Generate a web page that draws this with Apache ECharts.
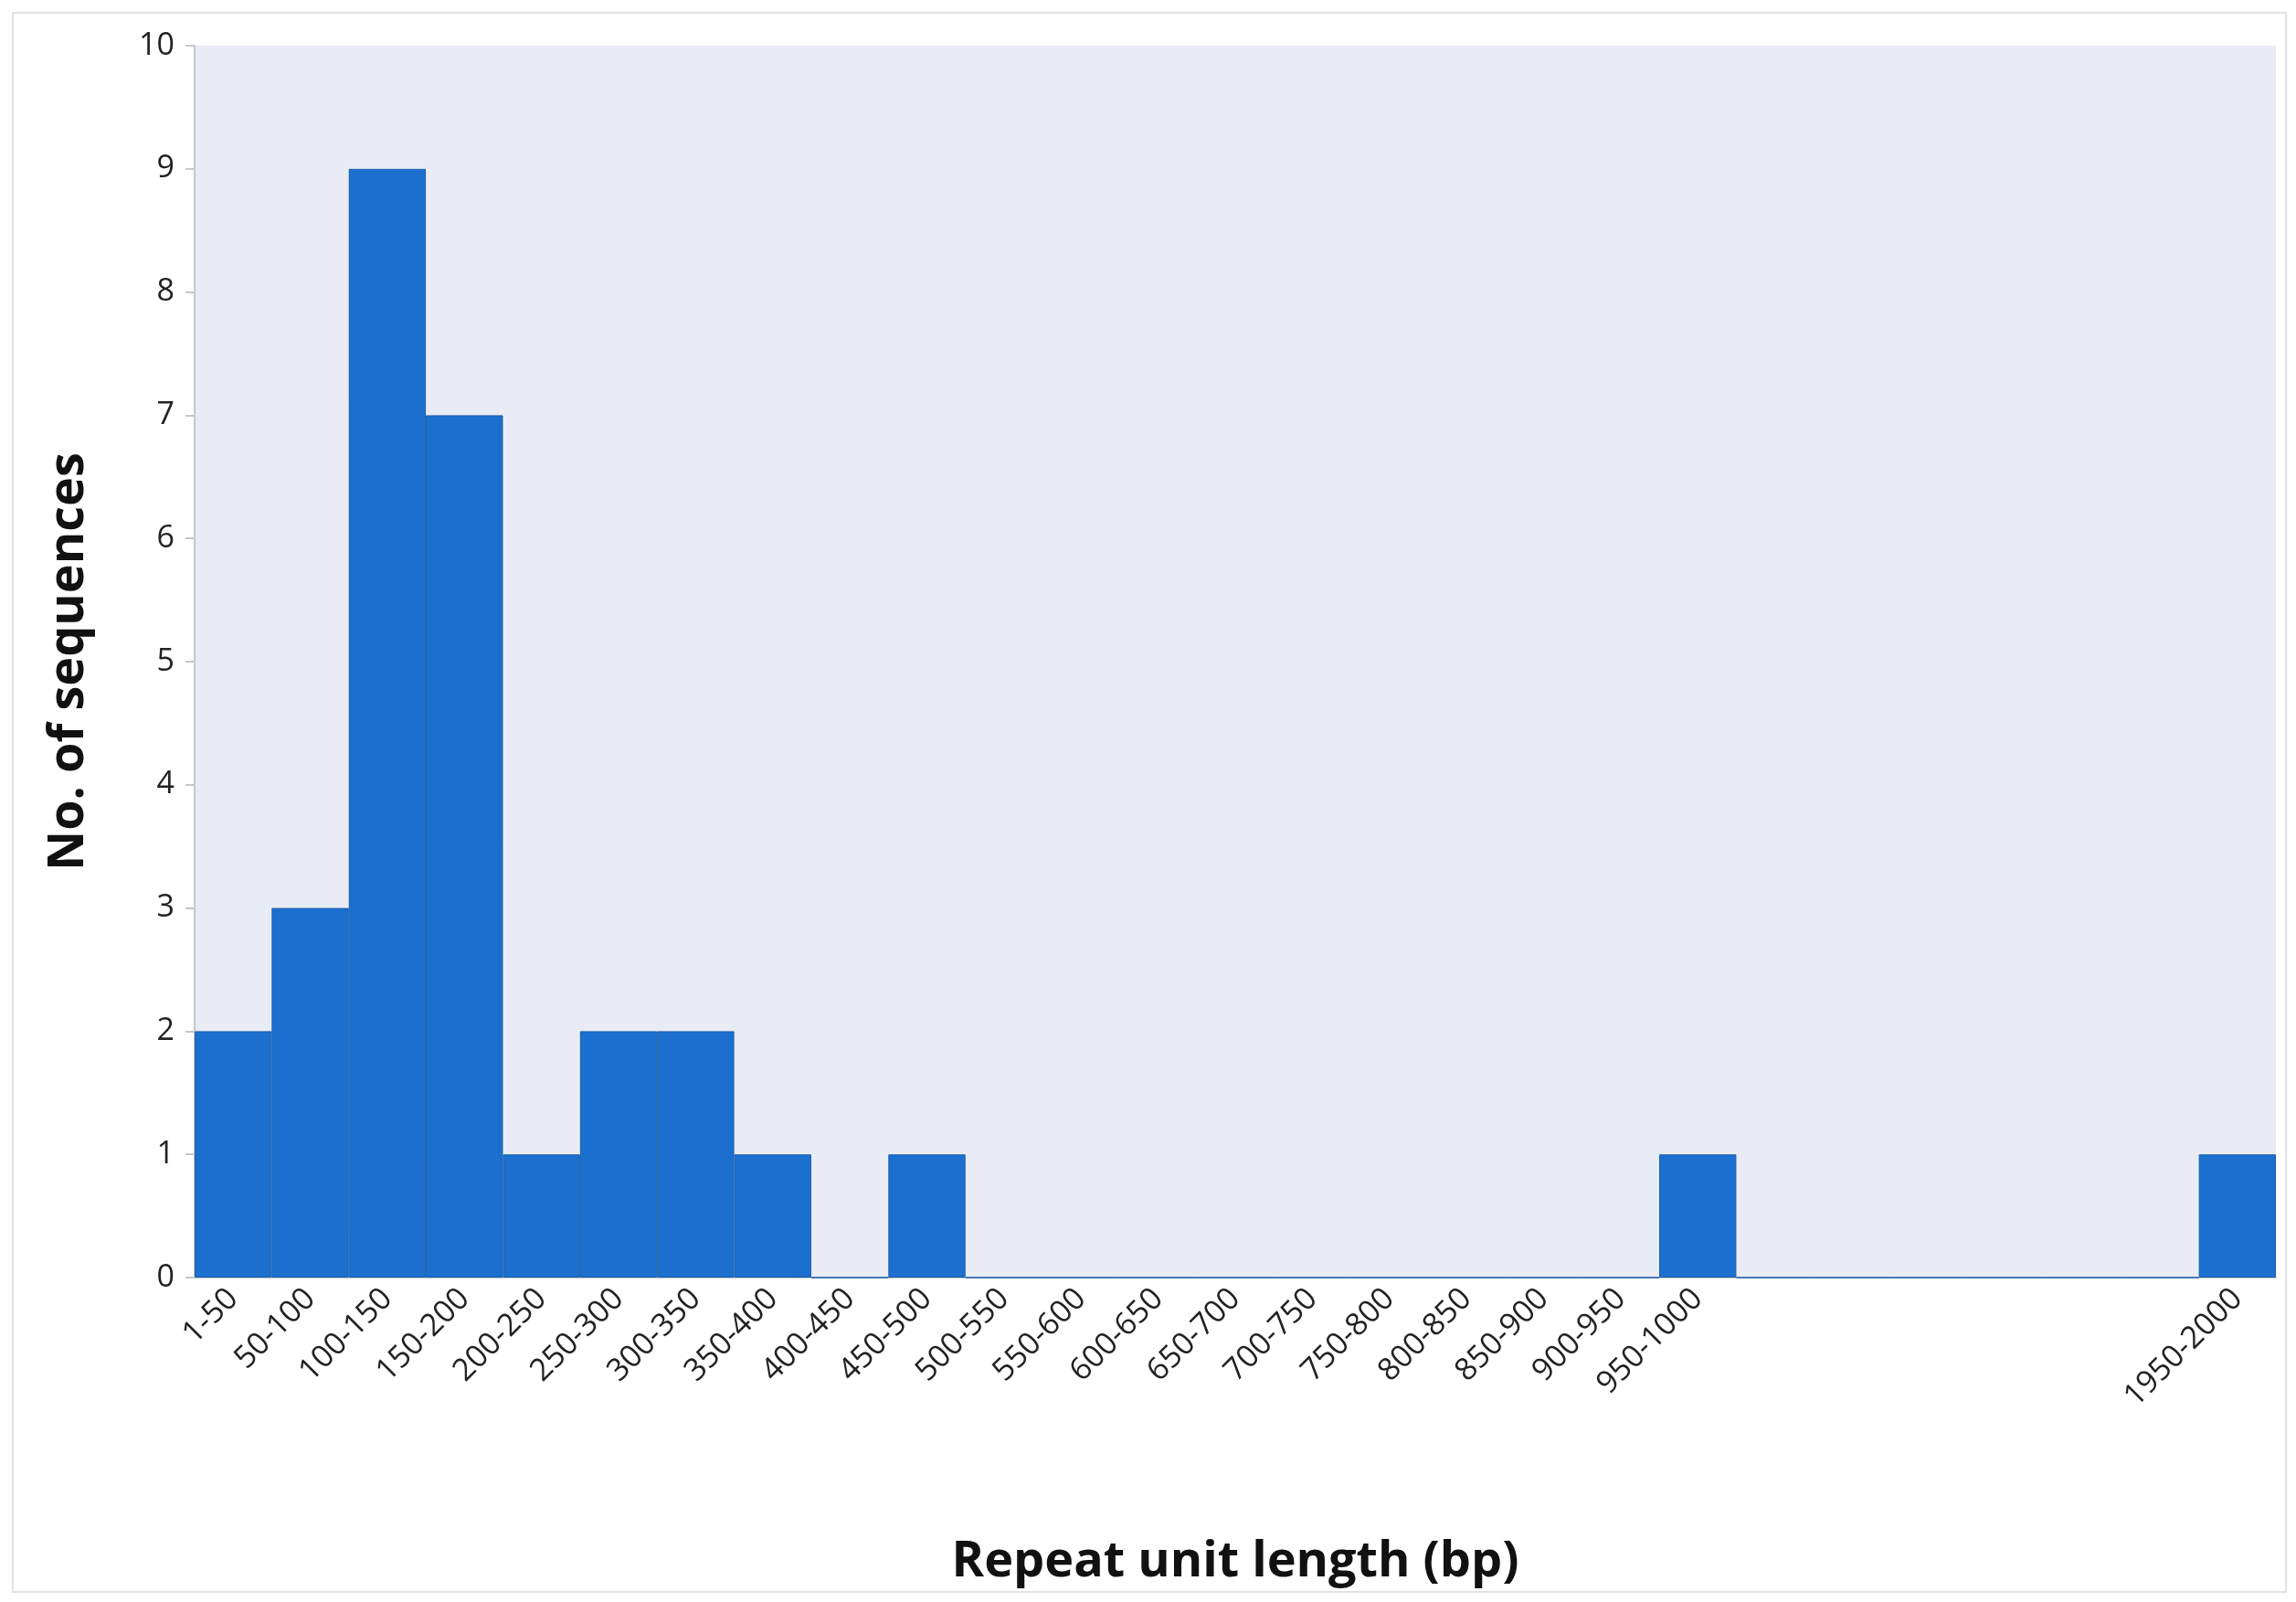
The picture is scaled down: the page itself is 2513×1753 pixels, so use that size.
<!DOCTYPE html>
<html>
<head>
<meta charset="utf-8">
<script src="https://cdn.jsdelivr.net/npm/echarts@6/dist/echarts.min.js"></script>
<style>
html, body { margin: 0; padding: 0; background: #fff; }
#frame { position: absolute; left: 13px; top: 13px; width: 2490px; height: 1730px; border: 2px solid #e2e2e2; box-sizing: border-box; }
#chart { width: 2513px; height: 1753px; }
</style>
</head>
<body>
<div id="frame"></div>
<div id="chart"></div>
<script>
// bins of repeat unit length; blank slots stand for the skipped range
var categories = ['1-50', '50-100', '100-150', '150-200', '200-250', '250-300', '300-350', '350-400',
    '400-450', '450-500', '500-550', '550-600', '600-650', '650-700', '700-750', '750-800',
    '800-850', '850-900', '900-950', '950-1000', '', '', '', '', '', '', '1950-2000'];
var counts = [2, 3, 9, 7, 1, 2, 2, 1, 0, 1, 0, 0, 0, 0, 0, 0, 0, 0, 0, 1, 0, 0, 0, 0, 0, 0, 1];
var yTicks = [0, 10, 1];

var chart = echarts.init(document.getElementById('chart'));
var option = {
    animation: false,
    grid: {
        left: 213, right: 22, top: 50, bottom: 355,
        show: true, backgroundColor: '#e9ebf5', borderWidth: 0
    },
    xAxis: {
        type: 'category',
        data: categories,
        name: 'Repeat unit length (bp)',
        nameLocation: 'middle',
        nameGap: 285,
        nameTextStyle: { fontFamily: 'Open Sans', fontWeight: 'bold', fontSize: 54, color: '#111' },
        axisLine: { lineStyle: { color: '#c8c8c8', width: 2 } },
        axisTick: { show: false },
        axisLabel: { interval: 0, rotate: 45, fontFamily: 'Open Sans', fontSize: 34, color: '#222', margin: 18 }
    },
    yAxis: {
        type: 'value',
        min: yTicks[0], max: yTicks[1], interval: yTicks[2],
        name: 'No. of sequences',
        nameLocation: 'middle',
        nameGap: 110,
        nameTextStyle: { fontFamily: 'Open Sans', fontWeight: 'bold', fontSize: 54, color: '#111' },
        axisLine: { show: true, lineStyle: { color: '#c8c8c8', width: 2 } },
        axisTick: { show: true, length: 10, lineStyle: { color: '#c8c8c8', width: 2 } },
        splitLine: { show: false },
        axisLabel: { fontFamily: 'Open Sans', fontSize: 34, color: '#222', margin: 22 }
    },
    series: [{
        type: 'bar',
        data: counts,
        barCategoryGap: 0,
        itemStyle: { color: '#1b6fce', borderColor: '#1a5fae', borderWidth: 1 }
    }]
};
chart.setOption(option);
</script>
</body>
</html>
